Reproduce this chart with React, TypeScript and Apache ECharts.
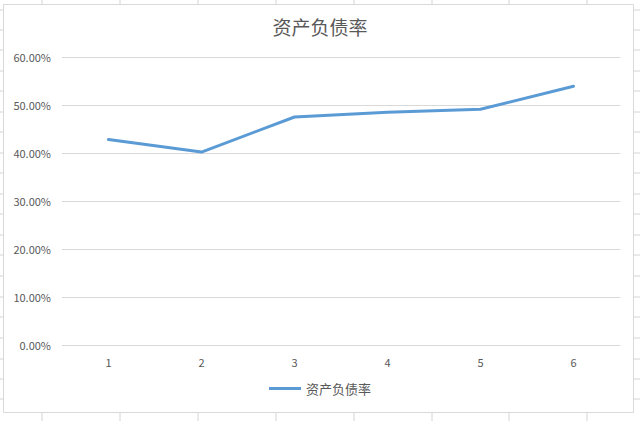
import { useEffect, useRef } from "react";
import * as echarts from "echarts";

const title = "资产负债率";
const categories = ["1", "2", "3", "4", "5", "6"];
const debtRatio = [0.428, 0.402, 0.475, 0.485, 0.491, 0.539];
const yTicks = [0, 0.1, 0.2, 0.3, 0.4, 0.5, 0.6];

// faint spreadsheet cell lines peeking out around the chart frame
const sheetCols = [42, 120, 198, 276, 354, 432, 509, 587];
const sheetRows = [10, 30, 50, 71, 91, 112, 132, 153, 173, 194, 214, 235, 255, 276, 297, 317, 338, 359, 379, 399];

export default function App() {
  const chartRef = useRef<HTMLDivElement>(null);

  useEffect(() => {
    if (!chartRef.current) return;
    const chart = echarts.init(chartRef.current, null, { renderer: "svg" });

    const sheetLines: any[] = [];
    sheetCols.forEach((x) => {
      sheetLines.push({ type: "line", shape: { x1: x, y1: 0, x2: x, y2: 4 }, style: { stroke: "#d4d4d4", lineWidth: 1 } });
      sheetLines.push({ type: "line", shape: { x1: x, y1: 413, x2: x, y2: 421 }, style: { stroke: "#d4d4d4", lineWidth: 1 } });
    });
    sheetRows.forEach((y) => {
      sheetLines.push({ type: "line", shape: { x1: 0, y1: y, x2: 3, y2: y }, style: { stroke: "#d4d4d4", lineWidth: 1 } });
      sheetLines.push({ type: "line", shape: { x1: 634, y1: y, x2: 640, y2: y }, style: { stroke: "#d4d4d4", lineWidth: 1 } });
    });

    chart.setOption({
      animation: false,
      backgroundColor: "#ffffff",
      textStyle: { fontFamily: "Noto Sans CJK SC" },
      graphic: [
        {
          type: "rect",
          shape: { x: 3.5, y: 4.5, width: 630, height: 408 },
          style: { fill: "#ffffff", stroke: "#d9d9d9", lineWidth: 1 },
          z: -10,
        },
        ...sheetLines,
      ],
      title: {
        text: title,
        left: "center",
        top: 12,
        textStyle: { fontSize: 19, fontWeight: "normal", color: "#595959", fontFamily: "Noto Sans CJK SC" },
      },
      legend: {
        bottom: 21,
        left: "center",
        icon: "rect",
        itemWidth: 32,
        itemHeight: 3,
        itemGap: 4,
        textStyle: { fontSize: 13, color: "#595959" },
        data: [title],
      },
      grid: { left: 62, right: 20, top: 57, bottom: 76 },
      xAxis: {
        type: "category",
        data: categories,
        boundaryGap: true,
        axisLine: { show: false },
        axisTick: { show: false },
        axisLabel: { color: "#595959", fontSize: 11, margin: 11 },
      },
      yAxis: {
        type: "value",
        min: yTicks[0],
        max: yTicks[yTicks.length - 1],
        interval: 0.1,
        axisLine: { show: false },
        axisTick: { show: false },
        axisLabel: {
          color: "#595959",
          fontSize: 11,
          margin: 11,
          formatter: (v: number) => (v * 100).toFixed(2) + "%",
        },
        splitLine: { lineStyle: { color: "#d9d9d9", width: 1 } },
      },
      series: [
        {
          name: title,
          type: "line",
          data: debtRatio,
          symbol: "none",
          lineStyle: { color: "#5b9bd5", width: 3, cap: "round", join: "round" },
          itemStyle: { color: "#5b9bd5" },
        },
      ],
    });

    return () => chart.dispose();
  }, []);

  return (
    <div
      ref={chartRef}
      style={{ position: "absolute", left: 0, top: 0, width: 640, height: 421 }}
    />
  );
}
